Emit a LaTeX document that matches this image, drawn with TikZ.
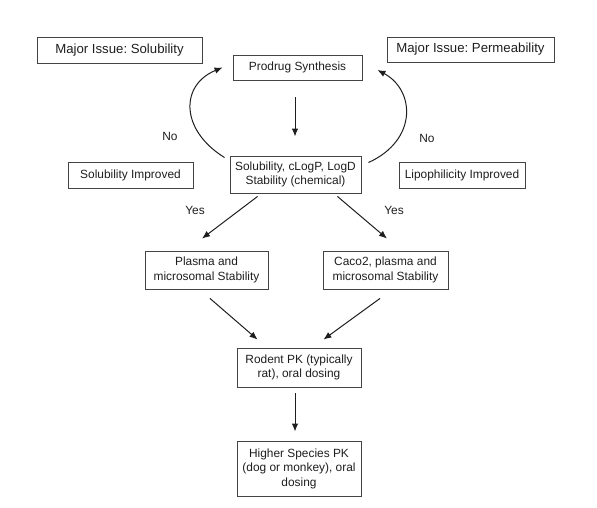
\documentclass[tikz,border=0pt]{standalone}
\usepackage{fontspec}
\setmainfont{Liberation Sans}
\usetikzlibrary{arrows.meta}
\definecolor{ink}{HTML}{1E1E1E}
\definecolor{edge}{HTML}{444444}
\frenchspacing
\tikzset{
  box/.style={draw=edge, line width=0.9pt, text=ink, inner sep=1pt, align=center,
    font=\fontsize{11.9}{14.5}\selectfont},
  bigbox/.style={box, font=\fontsize{13.2}{15}\selectfont},
  lbl/.style={text=ink, inner sep=0pt, font=\fontsize{11.9}{14}\selectfont},
  arr/.style={draw=ink, line width=1pt, -{Latex[length=8pt,width=6.5pt]}}
}
\begin{document}
\begin{tikzpicture}[x=1pt,y=-1pt]
\useasboundingbox (0,0) rectangle (597,508);
\node[bigbox, minimum width=165pt, minimum height=26pt] (majsol) at (119.5,50) {Major Issue: Solubility};
\node[box, minimum width=129pt, minimum height=25pt] (prodrug) at (297.5,67.5) {Prodrug Synthesis};
\node[bigbox, minimum width=167pt, minimum height=25pt] (majperm) at (470.5,49.5) {Major Issue: Permeability};
\node[box, minimum width=131pt, minimum height=37pt] (solub) at (295.5,174.5) {Solubility, cLogP, LogD\\Stability (chemical)};
\node[box, minimum width=125pt, minimum height=26pt] (solimp) at (130.5,175) {Solubility Improved};
\node[box, minimum width=126pt, minimum height=26pt] (lipimp) at (462,175) {Lipophilicity Improved};
\node[box, minimum width=123pt, minimum height=38pt] (plasma) at (206.5,270) {Plasma and\\microsomal Stability};
\node[box, minimum width=125pt, minimum height=38pt] (caco) at (385.5,270) {Caco2, plasma and\\microsomal Stability};
\node[box, minimum width=124pt, minimum height=39pt] (rodent) at (299,367.5) {Rodent PK (typically\\rat), oral dosing};
\node[box, minimum width=124pt, minimum height=55pt] (higher) at (299,468.5) {Higher Species PK\\(dog or monkey), oral\\dosing};

\node[lbl] (nol) at (170,136) {No};
\node[lbl] (nor) at (427,138) {No};
\node[lbl] (yesl) at (195,210) {Yes};
\node[lbl] (yesr) at (394,210) {Yes};

\draw[arr] ([xshift=-2.5pt,yshift=-17pt]prodrug.south) -- ([xshift=-0.5pt,yshift=19pt]solub.north);
\draw[arr] ([xshift=-5pt,yshift=-2pt]solub.north west) .. controls (180,130) and (180,85) .. ([xshift=-10pt]prodrug.west);
\draw[arr] ([xshift=7pt,yshift=-7pt]solub.north east) .. controls (418,140) and (415,90) .. ([xshift=15pt,yshift=-2.5pt]prodrug.east);
\draw[arr] ([xshift=28pt,yshift=-3pt]solub.south west) -- ([xshift=-4.5pt,yshift=12pt]plasma.north);
\draw[arr] ([xshift=-24pt,yshift=-3pt]solub.south east) -- ([xshift=1.5pt,yshift=12pt]caco.north);
\draw[arr] ([xshift=3.5pt,yshift=-9pt]plasma.south) -- ([xshift=21pt,yshift=8pt]rodent.north west);
\draw[arr] ([xshift=-5.5pt,yshift=-9pt]caco.south) -- ([xshift=-38pt,yshift=8pt]rodent.north east);
\draw[arr] ([xshift=-4pt,yshift=-6pt]rodent.south) -- ([xshift=-4pt,yshift=9pt]higher.north);
\end{tikzpicture}
\end{document}
